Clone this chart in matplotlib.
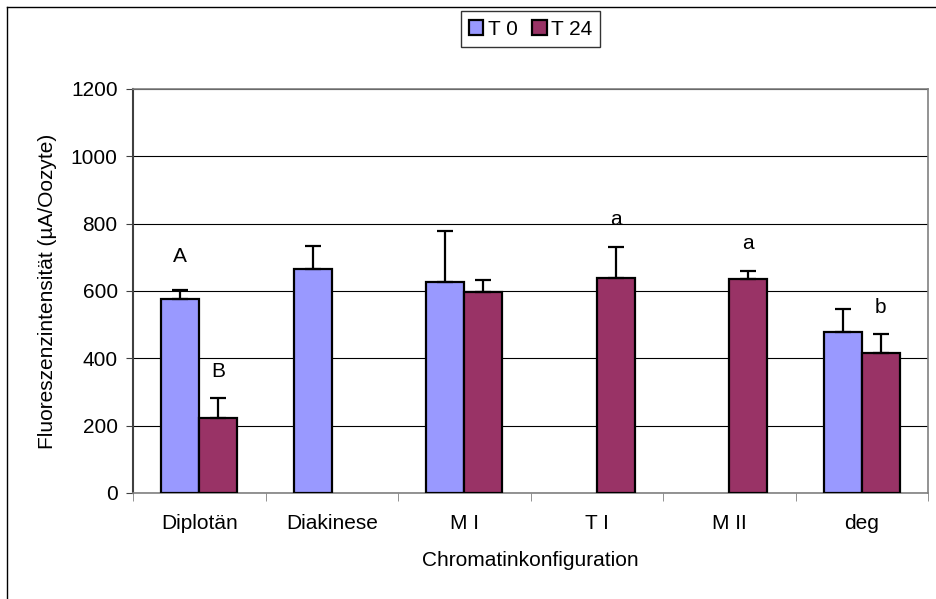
import numpy as np
import matplotlib
matplotlib.use("Agg")
import matplotlib.pyplot as plt
from matplotlib.lines import Line2D

plt.rcParams['font.family'] = ['Liberation Sans', 'DejaVu Sans']

# data (None = no bar)
categories = ['Diplotän', 'Diakinese', 'M I', 'T I', 'M II', 'deg']
t0_mean = [577, 664, 628, None, None, 477]
t0_err = [26, 70, 150, None, None, 69]
t24_mean = [223, None, 596, 638, 635, 417]
t24_err = [59, None, 38, 93, 25, 54]
letters_t0 = ['A', '', '', '', '', '']
letters_t24 = ['B', '', '', 'a', 'a', 'b']
letter_y_t0 = [701, None, None, None, None, None]
letter_y_t24 = [362, None, None, 811, 740, 552]

c_t0 = '#9999FF'
c_t24 = '#993366'
fs = 15

fig = plt.figure(figsize=(9.36, 5.99), dpi=100)
ax = fig.add_axes([133 / 936, 1 - 493 / 599, 795 / 936, 404 / 599])

x = np.arange(len(categories))
w = 0.287


def draw(means, errs, offset, color, label):
    idx = [i for i, m in enumerate(means) if m is not None]
    xs = x[idx] + offset
    ms = [means[i] for i in idx]
    es = [errs[i] for i in idx]
    ax.bar(xs, ms, width=w, color=color, edgecolor='black', linewidth=1.6,
           label=label, zorder=3)
    ax.errorbar(xs, ms, yerr=[np.zeros(len(es)), es], fmt='none',
                ecolor='black', elinewidth=1.6, capsize=6, capthick=1.6, zorder=4)


draw(t0_mean, t0_err, -w / 2, c_t0, 'T 0')
draw(t24_mean, t24_err, w / 2, c_t24, 'T 24')

for i in range(len(categories)):
    if letter_y_t0[i] is not None:
        ax.text(x[i] - w / 2, letter_y_t0[i], letters_t0[i], ha='center',
                va='center', fontsize=fs)
    if letter_y_t24[i] is not None:
        ax.text(x[i] + w / 2, letter_y_t24[i], letters_t24[i], ha='center',
                va='center', fontsize=fs)

ax.set_xlim(-0.5, len(categories) - 0.5)
ax.set_ylim(0, 1200)
ax.set_yticks(range(0, 1201, 200))
ax.yaxis.grid(True, color='black', linewidth=0.8, zorder=0)
ax.set_axisbelow(True)

ax.set_xticks(x)
ax.set_xticklabels(categories)
ax.set_xticks(np.arange(-0.5, len(categories), 1), minor=True)
ax.tick_params(axis='x', which='major', length=0, pad=15, labelsize=fs)
ax.tick_params(axis='x', which='minor', length=6, color='#808080')
ax.tick_params(axis='y', length=5, pad=6, labelsize=fs, color='#404040')

for s in ['top', 'right', 'bottom']:
    ax.spines[s].set_color('#808080')
    ax.spines[s].set_linewidth(1.2)
ax.spines['left'].set_color('#404040')
ax.spines['left'].set_linewidth(1.5)

ax.set_xlabel('Chromatinkonfiguration', fontsize=fs, labelpad=13)
ax.set_ylabel('Fluoreszenzintensität (µA/Oozyte)', fontsize=fs, labelpad=10)

leg = ax.legend(loc='lower center', bbox_to_anchor=(0.5, 1.078), ncol=2,
                frameon=True, fancybox=False, edgecolor='black', fontsize=fs,
                handlelength=0.7, handleheight=0.7, handletextpad=0.2,
                columnspacing=0.7, borderpad=0.4)
leg.get_frame().set_linewidth(1.0)

# outer chart border
fig.add_artist(Line2D([7 / 936, 7 / 936], [0, 1 - 7 / 599], color='black', linewidth=1.0))
fig.add_artist(Line2D([7 / 936, 1], [1 - 7 / 599, 1 - 7 / 599], color='black', linewidth=1.0))

fig.savefig('out.png', dpi=100)
